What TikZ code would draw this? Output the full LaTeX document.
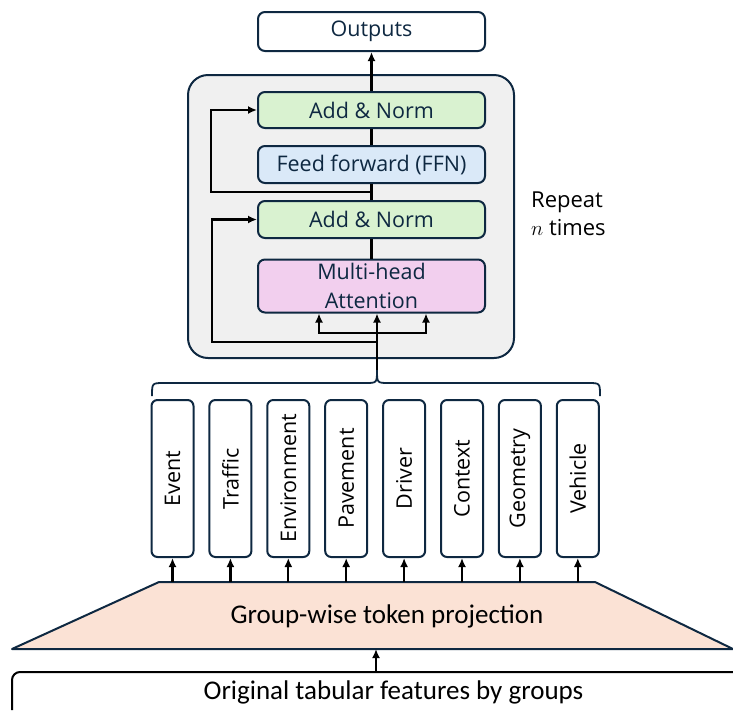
\documentclass[tikz,border=0pt]{standalone}
\usepackage{fontspec}
\setmainfont{Open Sans}
\newfontfamily\narrowfont{Carlito}
\usetikzlibrary{arrows.meta,calc}

\definecolor{boxline}{HTML}{0E2841}
\definecolor{blockgray}{HTML}{F0F0F0}
\definecolor{normgreen}{HTML}{D9F2D0}
\definecolor{ffnblue}{HTML}{DAE9F8}
\definecolor{attpink}{HTML}{F2CFEE}
\definecolor{projpeach}{HTML}{FBE2D5}

\tikzset{
	box/.style={draw=boxline, line width=2pt, rounded corners=7pt, minimum width=227pt, inner sep=0pt, text=boxline, align=center, font=\fontsize{21.5}{29}\selectfont},
	tok/.style={draw=boxline, line width=2pt, rounded corners=6pt, minimum width=157pt, minimum height=42pt, inner sep=0pt, rotate=90, font=\fontsize{21.5}{24}\selectfont},
	arr/.style={-{Latex[length=9pt,width=8pt]}, line width=2.2pt},
	link/.style={line width=2.2pt},
}

\begin{document}
\begin{tikzpicture}[x=1pt,y=-1pt]
	\useasboundingbox (0,0) rectangle (733,710);
	
	% encoder block
	\node[draw=boxline,line width=2pt,fill=blockgray,rounded corners=20pt,minimum width=326pt,minimum height=283pt] (block) at (351,216.5) {};
	\node[box,minimum height=39pt] (out) at (371.5,31.5) {Outputs};
	\node[box,fill=normgreen,minimum height=36pt] (an2) at (371.5,110) {Add \& Norm};
	\node[box,fill=ffnblue,minimum height=37pt] (ffn) at (371.5,164.5) {Feed forward (FFN)};
	\node[box,fill=normgreen,minimum height=37pt] (an1) at (371.5,219.5) {Add \& Norm};
	\node[box,fill=attpink,minimum height=53pt] (mha) at (371.5,286) {Multi-head\\Attention};
	\node[anchor=west,align=left,inner sep=0pt,font=\fontsize{22}{28}\selectfont] (rep) at (531,214) {Repeat\\$n$ times};
	
	\draw[arr] (an2.north) -- (out.south);
	\draw[link] (ffn.north) -- (an2.south);
	\draw[link] (an1.north) -- (ffn.south);
	\draw[link] (mha.north) -- (an1.south);
	
	\coordinate (r1) at ($(ffn.south)!.5!(an1.north)$);
	\draw[arr] (r1) -| ([xshift=-46pt]an2.west) -- (an2.west);
	
	% inputs to attention
	\coordinate (tip) at (377,370);
	\coordinate (r2) at (377,342);
	\coordinate (sp) at (377,333);
	\draw[arr] (tip) -- (tip |- mha.south);
	\draw[arr] (r2) -| ([xshift=-45pt]an1.west) -- (an1.west);
	\draw[arr] (sp) -| ([xshift=-52.5pt]mha.south);
	\draw[arr] (sp) -| ([xshift=54.5pt]mha.south);
	
	% brace over the tokens
	\draw[draw=boxline,line width=1.8pt] (152,396) .. controls (152,383) .. (164,383) -- (365,383) .. controls (377,383) .. (tip) .. controls (377,383) .. (389,383) -- (588,383) .. controls (600,383) .. (600,396);
	
	% projection
	\draw[draw=boxline,line width=2pt,fill=projpeach,line join=round] (12,649) -- (159,582) -- (595,582) -- (733,649) -- cycle;
	\node[font=\narrowfont\fontsize{27}{30}\selectfont] (proj) at (387,616) {Group-wise token projection};
	\coordinate (projtop) at (387,582);
	\coordinate (projbot) at (376,649);
	
	% group tokens
	\foreach \grp [count=\i] in {Event,Traffic,Environment,Pavement,Driver,Context,Geometry,Vehicle}{
		\node[tok] (t\i) at ({172.5+57.9*(\i-1)},478.5) {\grp};
		\draw[arr] (t\i |- projtop) -- (t\i);
	}
	
	% raw features
	\draw[line width=2pt,rounded corners=8pt] (12,710) -- (12,672) -- (733,672);
	\node[font=\narrowfont\fontsize{27}{30}\selectfont] (feat) at (393.5,692) {Original tabular features by groups};
	\coordinate (feattop) at (376,672);
	\draw[arr] (feattop) -- (projbot);
\end{tikzpicture}
\end{document}
